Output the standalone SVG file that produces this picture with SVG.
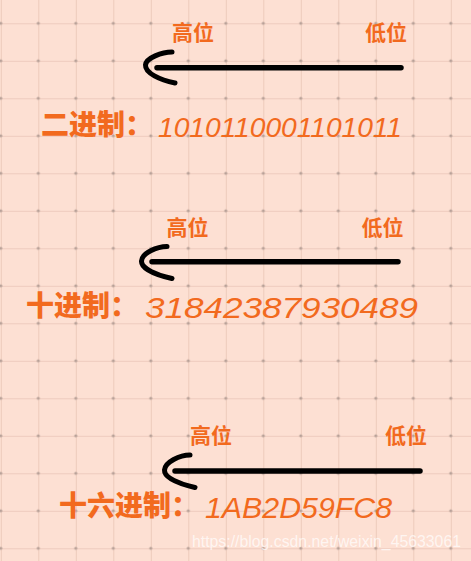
<svg xmlns="http://www.w3.org/2000/svg" width="471" height="561" viewBox="0 0 471 561">
  <defs>
    <pattern id="grid" x="0.8" y="23.3" width="37.5" height="37.5" patternUnits="userSpaceOnUse">
      <rect width="37.5" height="37.5" fill="#fde0d3"/>
      <path d="M0,0 V37.5 M0,0 H37.5" stroke="#eac5b6" stroke-width="1.6" fill="none"/>
      <circle cx="0" cy="0" r="1.6" fill="#b8a198"/>
      <circle cx="37.5" cy="0" r="1.6" fill="#b8a198"/>
      <circle cx="0" cy="37.5" r="1.6" fill="#b8a198"/>
      <circle cx="37.5" cy="37.5" r="1.6" fill="#b8a198"/>
    </pattern>
    <style>
      .pos { font-family: "Noto Sans CJK SC", "Liberation Sans", sans-serif; font-weight: bold; font-size: 21px; fill: #f26a1e; }
      .name { font-family: "Noto Sans CJK SC", "Liberation Sans", sans-serif; font-weight: 900; font-size: 28px; fill: #f26a1e; }
      .num { font-family: "Liberation Sans", "DejaVu Sans", sans-serif; font-style: italic; fill: #f26a1e; }
      .shaft { stroke: #000; stroke-width: 5.5; stroke-linecap: round; fill: none; }
      .head { stroke: #000; stroke-width: 5; stroke-linecap: round; stroke-linejoin: round; fill: none; }
      .wm { font-family: "Liberation Sans", Arial, sans-serif; font-size: 16px; fill: #ffffff; fill-opacity: 0.7; }
    </style>
  </defs>
  <rect width="471" height="561" fill="url(#grid)"/>

  <g id="connectors">
    <line class="shaft" x1="157" y1="67.7" x2="401" y2="67.7"/>
    <path class="head" d="M172,52 C162,52 146,58 145.5,65 C145,73 160,80 175,83"/>
    <line class="shaft" x1="152" y1="261.7" x2="398" y2="261.7"/>
    <path class="head" d="M167,246.5 C157,246.5 142,253 141.5,261 C141,269 157,275 172,278.5"/>
    <line class="shaft" x1="175" y1="471" x2="420" y2="471"/>
    <path class="head" d="M190,455 C180,455 165,462 164.5,470 C164,478 180,484 195,487.5"/>
  </g>

  <g id="row-binary">
    <text class="pos" x="172" y="40">高位</text>
    <text class="pos" x="365" y="40">低位</text>
    <text class="name" x="41" y="135">二进制：</text>
    <text class="num" x="158" y="137" font-size="27" textLength="244" lengthAdjust="spacingAndGlyphs">1010110001101011</text>
  </g>

  <g id="row-decimal">
    <text class="pos" x="166.5" y="235">高位</text>
    <text class="pos" x="361.5" y="235">低位</text>
    <text class="name" x="26" y="316">十进制：</text>
    <text class="num" x="145" y="318" font-size="30" textLength="273" lengthAdjust="spacingAndGlyphs">31842387930489</text>
  </g>

  <g id="row-hex">
    <text class="pos" x="190" y="443">高位</text>
    <text class="pos" x="385" y="443">低位</text>
    <text class="name" x="59" y="516">十六进制：</text>
    <text class="num" x="205" y="518" font-size="29" textLength="187" lengthAdjust="spacingAndGlyphs">1AB2D59FC8</text>
  </g>

  <text class="wm" x="192" y="547" textLength="269" lengthAdjust="spacingAndGlyphs">https://blog.csdn.net/weixin_45633061</text>
</svg>
